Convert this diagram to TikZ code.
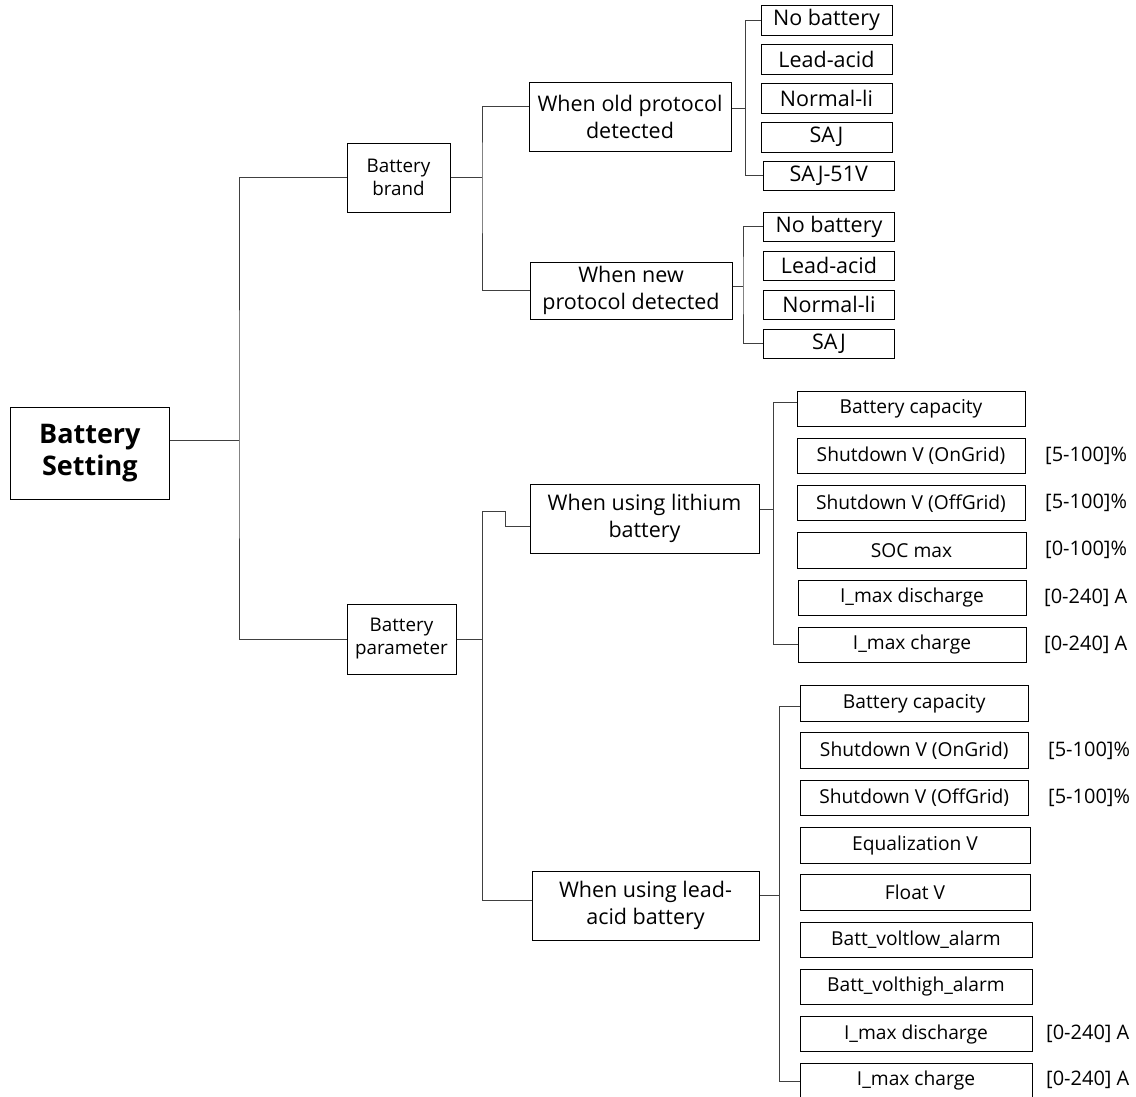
\documentclass[tikz,border=0pt]{standalone}
\usepackage{fontspec}
\setmainfont{Open Sans}
\newcommand\fsz[2]{\fontsize{#1pt}{#2pt}\selectfont}
\newcommand\bx[7]{\node[#6, minimum width={(#4-#2)*1pt}, minimum height={(#5-#3)*1pt}] (#1) at ({(#2+#4)/2},{(#3+#5)/2}) {#7};}
\begin{document}
\begin{tikzpicture}[x=1pt,y=-1pt,
  box/.style={draw=black,line width=1pt,inner sep=1pt,align=center,font=\fsz{19.2}{23}},
  rootbox/.style={box,font=\bfseries\fsz{27}{32}},
  midbox/.style={box,font=\fsz{18.8}{23}},
  bigbox/.style={box,font=\fsz{21.5}{27}},
  lbl/.style={anchor=west,inner sep=0pt,font=\fsz{20}{24}},
  conn/.style={draw=black!75,line width=1pt}]
\useasboundingbox (0,0) rectangle (1136,1096);
% nodes
\bx{root}{10.7}{407}{169}{499}{rootbox}{Battery\\Setting}
\bx{brand}{347}{143}{450}{212}{midbox}{Battery\\brand}
\bx{param}{347}{604}{456}{674}{midbox}{Battery\\parameter}
\bx{old}{529}{82}{731}{151}{bigbox}{When old protocol\\detected}
\bx{new}{530}{262}{732}{319}{bigbox}{When new\\protocol detected}
\bx{o1}{761}{5.7}{892}{35}{bigbox}{No battery}
\bx{o2}{761}{44}{892}{74}{bigbox}{Lead-acid}
\bx{o3}{761}{83}{892}{113}{bigbox}{Normal-li}
\bx{o4}{761}{122}{892}{152}{bigbox}{SAJ}
\bx{o5}{763}{161}{894.5}{190}{bigbox}{SAJ-51V}
\bx{n1}{763.5}{212}{894.5}{241}{bigbox}{No battery}
\bx{n2}{763.5}{251}{894.5}{280}{bigbox}{Lead-acid}
\bx{n3}{763.5}{290}{894.5}{319}{bigbox}{Normal-li}
\bx{n4}{763.5}{329}{894.5}{358}{bigbox}{SAJ}
\bx{lith}{530}{484}{759}{553}{bigbox}{When using lithium\\battery}
\bx{lead}{532}{871}{759}{940}{bigbox}{When using lead-\\acid battery}
\bx{l1}{797}{391}{1025}{426}{box}{Battery capacity}
\bx{l2}{797}{438}{1025}{473}{box}{Shutdown V (OnGrid)}
\bx{l3}{797}{485.7}{1025}{520.7}{box}{Shutdown V (OffGrid)}
\bx{l4}{797}{532.7}{1026}{568}{box}{SOC max}
\bx{l5}{798}{580}{1026}{615}{box}{I\_max discharge}
\bx{l6}{798}{627}{1026}{662.7}{box}{I\_max charge}
\bx{a1}{800}{685.7}{1028.5}{721.3}{box}{Battery capacity}
\bx{a2}{800}{732.7}{1028.5}{768.3}{box}{Shutdown V (OnGrid)}
\bx{a3}{800}{780}{1028.5}{815.7}{box}{Shutdown V (OffGrid)}
\bx{a4}{800}{827}{1030}{863}{box}{Equalization V}
\bx{a5}{800}{874.7}{1030}{910}{box}{Float V}
\bx{a6}{800}{922}{1032}{957}{box}{Batt\_voltlow\_alarm}
\bx{a7}{800}{969}{1032}{1004}{box}{Batt\_volthigh\_alarm}
\bx{a8}{800}{1016.7}{1032}{1051.7}{box}{I\_max discharge}
\bx{a9}{800}{1063}{1032}{1098}{box}{I\_max charge}
% labels
\node[lbl] (t1) at (1045,455.5) {[5-100]\%};
\node[lbl] (t2) at (1045,503) {[5-100]\%};
\node[lbl] (t3) at (1045,550) {[0-100]\%};
\node[lbl] (t4) at (1044,597.5) {[0-240] A};
\node[lbl] (t5) at (1044,645) {[0-240] A};
\node[lbl] (t6) at (1048,750.5) {[5-100]\%};
\node[lbl] (t7) at (1048,798) {[5-100]\%};
\node[lbl] (t8) at (1046,1034) {[0-240] A};
\node[lbl] (t9) at (1046,1080) {[0-240] A};
% connectors
\coordinate (j1) at (239,440);
\draw[conn] (j1 -| root.east) -- (j1);
\draw[conn] (brand.west) -| (j1) |- (param.west);
\coordinate (j2) at (482,177.5);
\coordinate (j2a) at (482,106);
\draw[conn] (brand.east) -- (j2);
\draw[conn] (j2a -| old.west) -- (j2a) -- (j2) |- (new.west);
\coordinate (j3) at (745.6,108);
\draw[conn] (j3 -| old.east) -- (j3);
\draw[conn] (o1.west) -| (j3) |- (o5.west);
\coordinate (j4) at (743,286);
\draw[conn] (j4 -| new.east) -- (j4);
\draw[conn] (n1.west) -| (j4) |- (n4.west);
\coordinate (j5) at (482.8,639);
\coordinate (j5a) at (482.8,511);
\coordinate (j5b) at (505,511);
\coordinate (j5c) at (505,526.7);
\coordinate (j5d) at (482.8,900);
\draw[conn] (param.east) -- (j5);
\draw[conn] (j5c -| lith.west) -- (j5c) -- (j5b) -- (j5a) -- (j5d) -- (j5d -| lead.west);
\coordinate (j6) at (773.4,509);
\coordinate (j6a) at (773.4,402.7);
\draw[conn] (j6 -| lith.east) -- (j6);
\draw[conn] (j6a -| l1.west) -- (j6a) -- (j6) |- (l6.west);
\coordinate (j7) at (779.8,895);
\coordinate (j7a) at (779.8,706.7);
\coordinate (j7b) at (779.8,1081);
\draw[conn] (j7 -| lead.east) -- (j7);
\draw[conn] (j7a -| a1.west) -- (j7a) -- (j7b) -- (j7b -| a9.west);
\end{tikzpicture}
\end{document}
